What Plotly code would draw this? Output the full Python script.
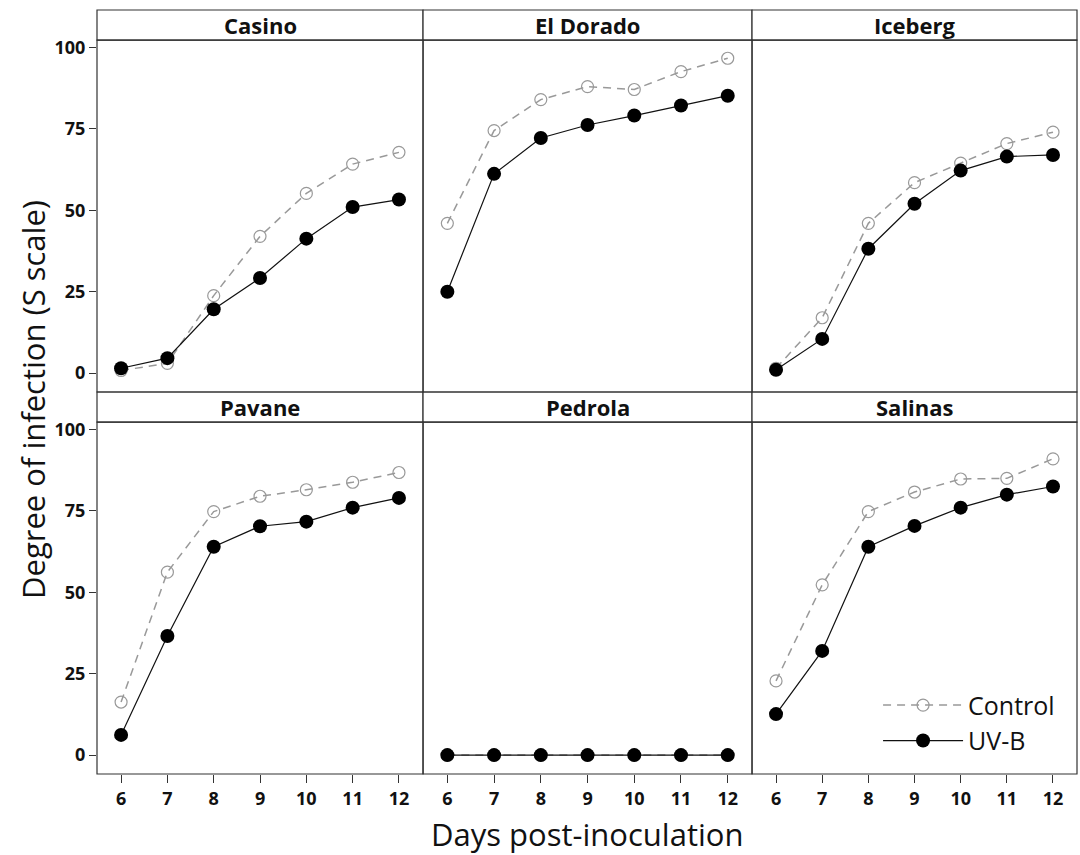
import plotly.graph_objects as go

days = [6, 7, 8, 9, 10, 11, 12]
cultivars = ["Casino", "El Dorado", "Iceberg", "Pavane", "Pedrola", "Salinas"]

casino_control = [0.8, 3, 23.8, 42, 55.2, 64.2, 67.8]
casino_uvb = [1.5, 4.6, 19.6, 29.2, 41.3, 51, 53.3]
eldorado_control = [46, 74.5, 84, 88, 87.1, 92.6, 96.7]
eldorado_uvb = [25, 61.2, 72.2, 76.2, 79.1, 82.2, 85.2]
iceberg_control = [1.5, 17, 46, 58.5, 64.5, 70.5, 74]
iceberg_uvb = [1, 10.5, 38.2, 52, 62.2, 66.5, 67]
pavane_control = [16.3, 56.2, 74.8, 79.5, 81.5, 83.8, 86.8]
pavane_uvb = [6.2, 36.6, 64, 70.3, 71.7, 76, 79]
pedrola_control = [0, 0, 0, 0, 0, 0, 0]
pedrola_uvb = [0, 0, 0, 0, 0, 0, 0]
salinas_control = [22.8, 52.3, 74.8, 80.8, 84.8, 85, 91]
salinas_uvb = [12.6, 32, 64, 70.4, 76, 80, 82.5]

control = [casino_control, eldorado_control, iceberg_control,
           pavane_control, pedrola_control, salinas_control]
uvb = [casino_uvb, eldorado_uvb, iceberg_uvb,
       pavane_uvb, pedrola_uvb, salinas_uvb]

y_ticks = [0, 25, 50, 75, 100]

FONT = "Open Sans"
col_x = [(0.0, 0.3327), (0.3327, 0.6684), (0.6684, 1.0)]
row_y = [(0.5, 0.9607), (0.0, 0.4607)]
head_y = [(0.9607, 1.0), (0.4607, 0.5)]
BORDER = "#333333"

fig = go.Figure()
layout = {}
shapes = []
annotations = []

for i, name in enumerate(cultivars):
    r, c = divmod(i, 3)
    idx = i + 1
    xa = "x" if idx == 1 else f"x{idx}"
    ya = "y" if idx == 1 else f"y{idx}"
    fig.add_trace(go.Scatter(
        x=days, y=control[i], xaxis=xa, yaxis=ya, mode="lines+markers",
        name="Control", legendgroup="c", showlegend=(i == 5),
        line=dict(color="#999999", width=1.5, dash="8px,6px"),
        marker=dict(symbol="circle-open", size=12, color="#999999",
                    line=dict(width=1.2, color="#999999")),
    ))
    fig.add_trace(go.Scatter(
        x=days, y=uvb[i], xaxis=xa, yaxis=ya, mode="lines+markers",
        name="UV-B", legendgroup="u", showlegend=(i == 5),
        line=dict(color="#111111", width=1.2),
        marker=dict(symbol="circle", size=14, color="#000000"),
    ))
    xkey = "xaxis" if idx == 1 else f"xaxis{idx}"
    ykey = "yaxis" if idx == 1 else f"yaxis{idx}"
    bottom = r == 1
    left = c == 0
    layout[xkey] = dict(
        domain=list(col_x[c]), anchor=ya, range=[5.48, 12.52],
        tickvals=days, showticklabels=bottom,
        ticks="outside" if bottom else "", ticklen=8, tickwidth=1.2, tickcolor=BORDER,
        showgrid=False, zeroline=False, showline=False,
        tickfont=dict(family=FONT, size=18, color="#111111", weight="bold"),
    )
    layout[ykey] = dict(
        domain=list(row_y[r]), anchor=xa, range=[-5.8, 102.3],
        tickvals=y_ticks, showticklabels=left,
        ticks="outside" if left else "", ticklen=7, tickwidth=1.2, tickcolor=BORDER,
        showgrid=False, zeroline=False, showline=False,
        tickfont=dict(family=FONT, size=18, color="#111111", weight="bold"),
    )
    # panel border
    shapes.append(dict(type="rect", xref="paper", yref="paper",
                       x0=col_x[c][0], x1=col_x[c][1], y0=row_y[r][0], y1=row_y[r][1],
                       line=dict(color=BORDER, width=1.2), fillcolor="rgba(0,0,0,0)",
                       layer="above"))
    # header strip
    shapes.append(dict(type="rect", xref="paper", yref="paper",
                       x0=col_x[c][0], x1=col_x[c][1], y0=head_y[r][0], y1=head_y[r][1],
                       line=dict(color=BORDER, width=1.2), fillcolor="white", layer="below"))
    annotations.append(dict(text=name, xref="paper", yref="paper",
                            x=(col_x[c][0] + col_x[c][1]) / 2,
                            y=(head_y[r][0] + head_y[r][1]) / 2,
                            xanchor="center", yanchor="middle", showarrow=False,
                            font=dict(family=FONT, size=22, color="#111111", weight="bold")))

annotations.append(dict(text="Degree of infection (S scale)", xref="paper", yref="paper",
                        x=-0.066, y=0.49, textangle=-90, showarrow=False,
                        xanchor="center", yanchor="middle",
                        font=dict(family=FONT, size=31, color="#111111")))
annotations.append(dict(text="Days post-inoculation", xref="paper", yref="paper",
                        x=0.5, y=-0.078, showarrow=False,
                        xanchor="center", yanchor="middle",
                        font=dict(family=FONT, size=31, color="#111111")))

fig.update_layout(
    width=1080, height=855,
    margin=dict(l=97, r=3, t=10, b=81),
    paper_bgcolor="white", plot_bgcolor="white",
    shapes=shapes, annotations=annotations,
    legend=dict(x=0.797, y=0.12, xanchor="left", yanchor="top",
                bgcolor="rgba(0,0,0,0)", itemwidth=80,
                font=dict(family=FONT, size=25, color="#111111"),
                tracegroupgap=0),
    showlegend=True,
    **layout,
)

fig.write_html("out.html")
